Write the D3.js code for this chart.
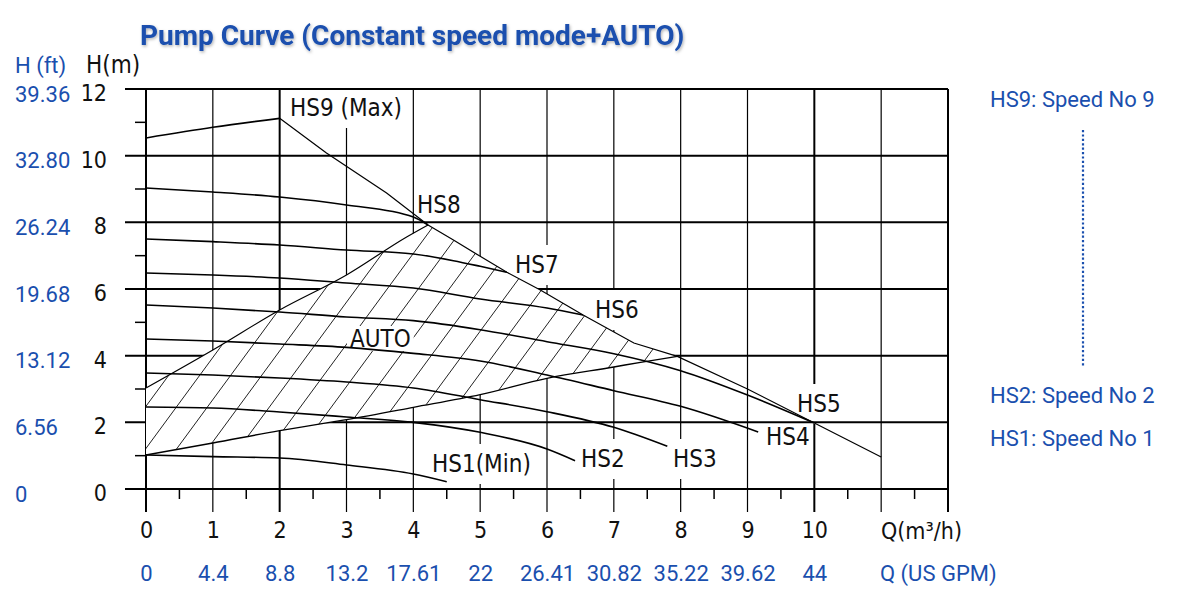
<!DOCTYPE html>
<html><head><meta charset="utf-8">
<script src="https://cdn.jsdelivr.net/npm/d3@7"></script>
<style>body{margin:0;background:#fff} svg{display:block}</style>
</head><body>
<svg id="c" width="1200" height="600"></svg>
<script>
// ---------------- data ----------------
const flowTicks = [0,1,2,3,4,5,6,7,8,9,10];
const gpmLabels = ["0","4.4","8.8","13.2","17.61","22","26.41","30.82","35.22","39.62","44"];
const headTicks = [0,2,4,6,8,10,12];
const ftLabels = ["0","6.56","13.12","19.68","26.24","32.80","39.36"];
const legendLabels = ["HS9: Speed No 9","HS2: Speed No 2","HS1: Speed No 1"];

// speed curves: Q (m3/h), H (m)
const hs9Q = [0,1,2];                 const hs9H = [10.53,10.85,11.12];
const hs8Q = [0,1,2,3,4,4.22];        const hs8H = [9.03,8.91,8.76,8.52,8.16,7.92];
const hs7Q = [0,1,2,3,4,4.6,5.0,5.4]; const hs7H = [7.5,7.42,7.32,7.17,7.05,6.85,6.68,6.5];
const hs6Q = [0,1,2,3,4,5,6,6.54];    const hs6H = [6.48,6.42,6.33,6.18,6.03,5.7,5.43,5.22];
const hs5Q = [0,1,2,3,4,5,6,7,8,9,10];const hs5H = [5.52,5.43,5.31,5.16,5.05,4.78,4.42,4.06,3.55,2.82,1.98];
const hs4Q = [0,1,2,3,4,5,6,7,8,9.16];const hs4H = [4.5,4.44,4.35,4.25,4.07,3.84,3.42,2.95,2.48,1.71];
const hs3Q = [0,1,2,3,4,5,6,7,7.8];   const hs3H = [3.48,3.42,3.33,3.21,3.03,2.68,2.32,1.85,1.28];
const hs2Q = [0,1,2,3,4,5,6,6.42];    const hs2H = [2.46,2.43,2.31,2.16,2.0,1.7,1.2,0.85];
const hs1Q = [0,1,2,3,4,4.5];         const hs1H = [1.02,0.97,0.93,0.72,0.45,0.22];
// maximum limit line (from HS9 peak down to the end)
const limitQ = [2,2.7,3.6,4.22,4.6,5.0,5.4,5.9,6.54,7.3,7.95,9,10,11];
const limitH = [11.12,10.08,8.88,7.92,7.47,6.98,6.5,5.97,5.22,4.38,3.98,3.0,1.98,0.96];
// AUTO region boundaries
const autoUpperQ = [0,1,2,3,3.9,4.22];            const autoUpperH = [3.03,4.17,5.37,6.42,7.56,7.92];
const autoLowerQ = [0,1,2,3,4,5,6,7,7.4,7.95];    const autoLowerH = [1.02,1.38,1.75,2.08,2.45,2.83,3.32,3.66,3.8,3.98];

const curveLabels = ["HS9 (Max)","HS8","HS7","HS6","HS5","HS4","HS3","HS2","HS1(Min)"];

// ---------------- layout ----------------
const BLUE = "#1a4fae";
const CAD = "'Liberation Sans Narrow','DejaVu Sans Condensed',sans-serif";
const svg = d3.select("#c");
const x = d3.scaleLinear().domain([0,12]).range([146,948]);
const y = d3.scaleLinear().domain([0,12]).range([489,89]);
const zip = (a,b) => a.map((v,i)=>[v,b[i]]);

const gV = svg.append("g"), gMask = svg.append("g"), gH = svg.append("g"),
      gHatchFill = svg.append("g"), gHatch = svg.append("g"), gAutoBg = svg.append("g"),
      gCurves = svg.append("g"), gText = svg.append("g");

// vertical grid
gV.selectAll("line").data(d3.range(0,13)).join("line")
  .attr("x1",d=>x(d)).attr("x2",d=>x(d)).attr("y1",y(12)).attr("y2",y(0)+23)
  .attr("stroke","#000").attr("stroke-width",d=>[0,2,10,12].includes(d)?2:1.2);
gV.selectAll("line.mx").data(d3.range(0.5,12,1)).join("line").attr("class","mx")
  .attr("x1",d=>x(d)).attr("x2",d=>x(d)).attr("y1",y(0)).attr("y2",y(0)+10)
  .attr("stroke","#000").attr("stroke-width",1.5);
// horizontal grid
gH.selectAll("line").data(headTicks).join("line")
  .attr("x1",125).attr("x2",x(12)).attr("y1",d=>y(d)).attr("y2",d=>y(d))
  .attr("stroke","#000").attr("stroke-width",2);
gH.selectAll("line.my").data([1,3,5,7,9,11]).join("line").attr("class","my")
  .attr("x1",135).attr("x2",x(0)).attr("y1",d=>y(d)).attr("y2",d=>y(d))
  .attr("stroke","#000").attr("stroke-width",1.5);

// AUTO region
const upper = zip(autoUpperQ,autoUpperH);
const lim = zip(limitQ,limitH).filter(d=>d[0]>4.22 && d[0]<7.95);
const lower = zip(autoLowerQ,autoLowerH).reverse();
const poly = upper.concat(lim, lower);
const polyD = "M" + poly.map(d=>x(d[0])+","+y(d[1])).join("L") + "Z";
gHatchFill.append("path").attr("d",polyD).attr("fill","#fff");
svg.append("defs").append("clipPath").attr("id","autoClip").append("path").attr("d",polyD);
const hatchG = gHatch.append("g").attr("clip-path","url(#autoClip)");
const slope = 1.36, sp = 31, x0 = 147, yRef = 447;
for (let k=-4;k<22;k++){
  const xa = x0 + k*sp;
  hatchG.append("line")
    .attr("x1", xa - (500-yRef)/slope).attr("y1",500)
    .attr("x2", xa + (yRef-200)/slope).attr("y2",200)
    .attr("stroke","#222").attr("stroke-width",1);
}

// curves
const lineSmooth = d3.line().x(d=>x(d[0])).y(d=>y(d[1])).curve(d3.curveMonotoneX);
const lineStraight = d3.line().x(d=>x(d[0])).y(d=>y(d[1]));
const speedSeries = [[hs9Q,hs9H],[hs8Q,hs8H],[hs7Q,hs7H],[hs6Q,hs6H],[hs5Q,hs5H],[hs4Q,hs4H],[hs3Q,hs3H],[hs2Q,hs2H],[hs1Q,hs1H]];
speedSeries.forEach(([q,h])=>{
  gCurves.append("path").attr("d",lineSmooth(zip(q,h))).attr("fill","none")
    .attr("stroke","#000").attr("stroke-width",1.6);
});
gCurves.append("path").attr("d",lineStraight(zip(limitQ,limitH))).attr("fill","none")
  .attr("stroke","#000").attr("stroke-width",1.2);
gCurves.append("path").attr("d",lineSmooth(upper)).attr("fill","none").attr("stroke","#000").attr("stroke-width",1.2);
gCurves.append("path").attr("d",lineSmooth(zip(autoLowerQ,autoLowerH))).attr("fill","none").attr("stroke","#000").attr("stroke-width",1.4);

// curve labels (left x, baseline y)
const labelPos = [[290,116],[417,213],[515,273],[595,318],[797,412],[766,445],[673,467],[581,467],[432,472]];
curveLabels.forEach((t,i)=>{
  const tx = gText.append("text").attr("x",labelPos[i][0]).attr("y",labelPos[i][1])
    .attr("font-family",CAD).attr("font-size",24).attr("fill","#111").text(t);
  const b = tx.node().getBBox();
  gMask.append("rect").attr("x",b.x-2).attr("y",b.y-6).attr("width",b.width+4).attr("height",b.height+12).attr("fill","#fff");
});
const autoT = gText.append("text").attr("x",350).attr("y",347)
  .attr("font-family",CAD).attr("font-size",24).attr("fill","#111").text("AUTO");
{ const b = autoT.node().getBBox();
  gAutoBg.append("rect").attr("x",b.x-3).attr("y",b.y+1).attr("width",b.width+6).attr("height",b.height-3).attr("fill","#fff"); }

// axes labels
function styleAxis(g, fam, size, col){
  g.select(".domain").remove(); g.selectAll(".tick line").remove();
  g.attr("font-family",fam).attr("font-size",size);
  g.selectAll("text").attr("fill",col);
}
const axL = svg.append("g").attr("transform","translate(107,4)")
  .call(d3.axisLeft(y).tickValues(headTicks).tickSize(0).tickPadding(0));
styleAxis(axL, CAD, 23, "#111");
const axLft = svg.append("g").attr("transform","translate(15,5)")
  .call(d3.axisLeft(y).tickValues(headTicks).tickSize(0).tickPadding(0).tickFormat((d,i)=>ftLabels[i]));
styleAxis(axLft, "Roboto", 22, BLUE); axLft.selectAll("text").attr("text-anchor","start").attr("x",0);
const axB = svg.append("g").attr("transform","translate(0,522)")
  .call(d3.axisBottom(x).tickValues(flowTicks).tickSize(0).tickPadding(0));
styleAxis(axB, CAD, 23, "#111");
const axBg = svg.append("g").attr("transform","translate(0,565)")
  .call(d3.axisBottom(x).tickValues(flowTicks).tickSize(0).tickPadding(0).tickFormat((d,i)=>gpmLabels[i]));
styleAxis(axBg, "Roboto", 22, BLUE);

svg.append("text").attr("x",86).attr("y",73).attr("font-family",CAD).attr("font-size",24).attr("fill","#111").text("H(m)");
svg.append("text").attr("x",881).attr("y",539).attr("font-family",CAD).attr("font-size",23).attr("fill","#111").text("Q(m³/h)");
svg.append("text").attr("x",15).attr("y",73).attr("font-family","Roboto").attr("font-size",22).attr("fill",BLUE).text("H (ft)");
svg.append("text").attr("x",880).attr("y",581).attr("font-family","Roboto").attr("font-size",22).attr("fill",BLUE).text("Q (US GPM)");

// title
const f = svg.select("defs").append("filter").attr("id","sh").attr("x","-5%").attr("y","-30%").attr("width","110%").attr("height","160%");
f.append("feDropShadow").attr("dx",1).attr("dy",1.5).attr("stdDeviation",1.5).attr("flood-color","#000").attr("flood-opacity",0.3);
svg.append("text").attr("x",140).attr("y",45).attr("font-family","Roboto").attr("font-weight","bold")
  .attr("font-size",28).attr("fill",BLUE).attr("filter","url(#sh)").text("Pump Curve (Constant speed mode+AUTO)");

// right legend
const legY = [107,403,446];
svg.selectAll("text.leg").data(legendLabels).join("text").attr("class","leg")
  .attr("x",990).attr("y",(d,i)=>legY[i]).attr("font-family","Roboto").attr("font-size",22).attr("fill",BLUE).text(d=>d);
svg.append("line").attr("x1",1083).attr("x2",1083).attr("y1",130).attr("y2",367)
  .attr("stroke",BLUE).attr("stroke-width",2.2).attr("stroke-dasharray","2.2,2.2");
</script>
</body></html>
